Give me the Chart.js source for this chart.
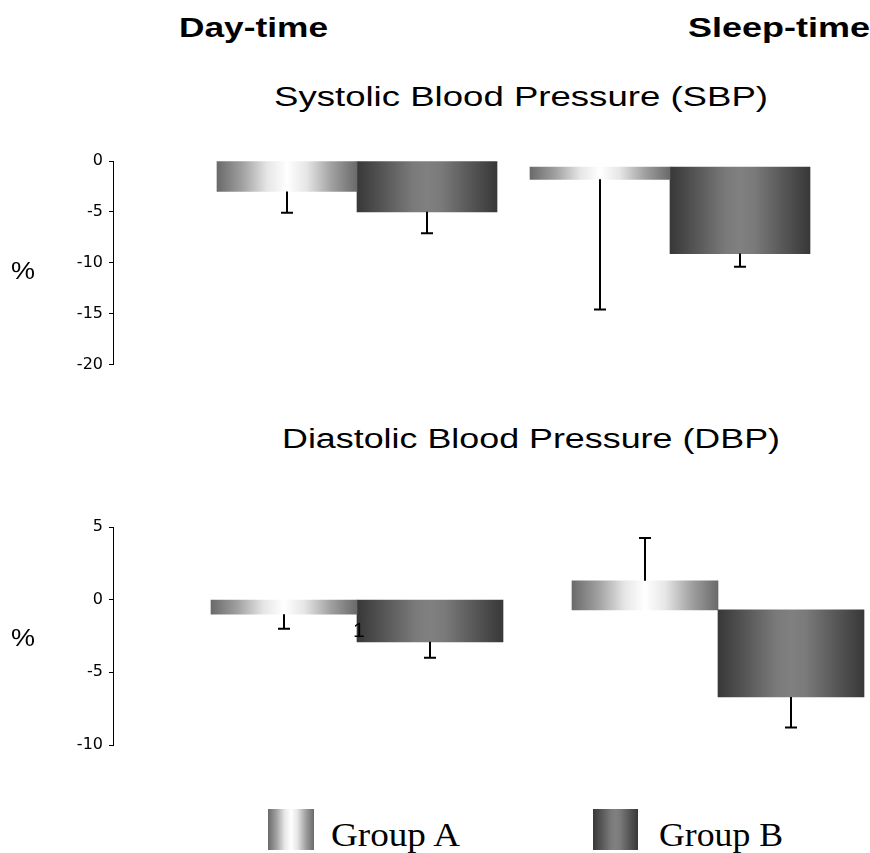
<!DOCTYPE html>
<html><head><meta charset="utf-8">
<script src="https://cdn.jsdelivr.net/npm/chart.js@4.4.1/dist/chart.umd.min.js"></script>
<style>
html,body{margin:0;padding:0;background:#fff;width:870px;height:853px;overflow:hidden;position:relative;}
.t{position:absolute;white-space:nowrap;transform-origin:0 0;color:#000;display:inline-block;}
.sw{position:absolute;}
</style></head><body>
<div style="position:absolute;left:0;top:140px;width:870px;height:240px"><canvas id="c1"></canvas></div>
<div style="position:absolute;left:0;top:500px;width:870px;height:270px"><canvas id="c2"></canvas></div>
<div class="sw" style="left:268px;top:809px;width:46px;height:41px;background:linear-gradient(to right,#6a6a6a 0%,#a0a0a0 18%,#e6e6e6 36%,#ffffff 50%,#e6e6e6 64%,#a0a0a0 82%,#6a6a6a 100%);"></div>
<div class="sw" style="left:593px;top:809px;width:45px;height:41px;background:linear-gradient(to right,#383838 0%,#555555 18%,#7a7a7a 40%,#808080 50%,#7a7a7a 60%,#555555 82%,#383838 100%);"></div>
<script>
// ---- data ----
const categories = ['Day-time', 'Sleep-time'];
const seriesNames = ['Group A', 'Group B'];
const sbpGroupA = [[0, -3.0], [-0.6, -1.8]];
const sbpGroupB = [[0, -5.0], [-0.6, -9.1]];
const sbpErrA = [2.1, 12.8];
const sbpErrB = [2.1, 1.3];
const dbpGroupA = [[0, -1.0], [-0.7, 1.3]];
const dbpGroupB = [[0, -2.9], [-0.7, -6.7]];
const dbpErrA = [1.0, 2.95];
const dbpErrB = [1.1, 2.1];
const sbpTicks = [0, -5, -10, -15, -20];
const dbpTicks = [5, 0, -5, -10];

// ---- styles ----
const stopsA = [[0,'#6a6a6a'],[0.18,'#a0a0a0'],[0.36,'#e6e6e6'],[0.5,'#ffffff'],[0.64,'#e6e6e6'],[0.82,'#a0a0a0'],[1,'#6a6a6a']];
const stopsB = [[0,'#383838'],[0.18,'#555555'],[0.4,'#7a7a7a'],[0.5,'#808080'],[0.6,'#7a7a7a'],[0.82,'#555555'],[1,'#383838']];

const gradPlugin = {
  id: 'grad',
  beforeDatasetsDraw(chart) {
    const ctx = chart.ctx;
    chart.data.datasets.forEach((ds, di) => {
      chart.getDatasetMeta(di).data.forEach(el => {
        const p = el.getProps(['x', 'width'], true);
        const g = ctx.createLinearGradient(p.x - p.width / 2, 0, p.x + p.width / 2, 0);
        ds.gradStops.forEach(s => g.addColorStop(s[0], s[1]));
        el.options = Object.assign({}, el.options, { backgroundColor: g });
      });
    });
  }
};
const errPlugin = {
  id: 'err',
  afterDatasetsDraw(chart) {
    const ctx = chart.ctx, ys = chart.scales.y;
    chart.data.datasets.forEach((ds, di) => {
      chart.getDatasetMeta(di).data.forEach((el, i) => {
        const v = ds.data[i].y;
        const dir = Math.sign(v[1] - v[0]) || -1;
        const e = ds.errors[i];
        const x = Math.round(el.x);
        const y0 = ys.getPixelForValue(v[1]);
        const y1 = ys.getPixelForValue(v[1] + dir * e);
        ctx.save();
        ctx.strokeStyle = '#000';
        ctx.lineWidth = 2;
        ctx.beginPath();
        ctx.moveTo(x, y0); ctx.lineTo(x, y1);
        ctx.moveTo(x - 6, y1); ctx.lineTo(x + 6, y1);
        ctx.stroke();
        ctx.restore();
      });
    });
  }
};

function makeChart(id, a, b, errA, errB, ticks, xMin, xMax, thick, pad) {
  const ds = (vals, errs, name, stops) => ({
    label: name,
    data: vals.map((v, i) => ({ x: i + 1, y: v })),
    errors: errs,
    gradStops: stops,
    backgroundColor: '#888',
    borderWidth: 0,
    barThickness: thick
  });
  return new Chart(document.getElementById(id), {
    type: 'bar',
    data: {
      datasets: [ds(a, errA, seriesNames[0], stopsA), ds(b, errB, seriesNames[1], stopsB)]
    },
    options: {
      responsive: true,
      maintainAspectRatio: false,
      animation: false,
      events: [],
      layout: { padding: pad },
      plugins: { legend: { display: false }, tooltip: { enabled: false } },
      scales: {
        x: {
          type: 'linear', display: false, min: xMin, max: xMax,
          offset: false, bounds: 'data', grace: 0,
          grid: { offset: false },
          ticks: { stepSize: 1, includeBounds: false }
        },
        y: {
          min: Math.min(...ticks), max: Math.max(...ticks),
          afterFit: s => { s.width = 113; },
          afterBuildTicks: s => { s.ticks = ticks.map(v => ({ value: v })); },
          grid: { drawOnChartArea: false, drawTicks: true, tickLength: 4, color: '#000', lineWidth: 1 },
          border: { display: true, color: '#000', width: 1 },
          ticks: { color: '#000', padding: 6, font: { family: 'DejaVu Sans', size: 16 } }
        }
      }
    },
    plugins: [gradPlugin, errPlugin]
  });
}

makeChart('c1', sbpGroupA, sbpGroupB, sbpErrA, sbpErrB, sbpTicks,
  1 - 244 / 313, 1 - 244 / 313 + 757 / 313, 140, { left: 0, right: 0, top: 21, bottom: 15 });
makeChart('c2', dbpGroupA, dbpGroupB, dbpErrA, dbpErrB, dbpTicks,
  1 - 244 / 361, 1 - 244 / 361 + 757 / 361, 146, { left: 0, right: 0, top: 27, bottom: 25 });

// ---- text ----
const SANS = '"Liberation Sans", Arial, sans-serif', SERIF = '"Liberation Serif", "Times New Roman", serif';
const texts = [
  { text: 'Day-time', x: 179, w: 149, base: 38, size: 28, weight: 'bold', fam: SANS, asc: 0.8465 },
  { text: 'Sleep-time', x: 688, w: 182, base: 38, size: 28, weight: 'bold', fam: SANS, asc: 0.8465 },
  { text: 'Systolic Blood Pressure (SBP)', x: 274, w: 494, base: 107, size: 27, weight: 'normal', fam: SANS, asc: 0.8465 },
  { text: 'Diastolic Blood Pressure (DBP)', x: 282, w: 498, base: 449, size: 27, weight: 'normal', fam: SANS, asc: 0.8465 },
  { text: '%', x: 11, w: 24, base: 279, size: 23, weight: 'normal', fam: SANS, asc: 0.8465 },
  { text: '%', x: 11, w: 24, base: 646, size: 23, weight: 'normal', fam: SANS, asc: 0.8465 },
  { text: '1', x: 353, w: null, base: 637, size: 21, weight: 'normal', fam: SANS, asc: 0.8465 },
  { text: seriesNames[0], x: 331, w: 129, base: 847, size: 33, weight: 'normal', fam: SERIF, asc: 0.8375 },
  { text: seriesNames[1], x: 659, w: 124, base: 847, size: 33, weight: 'normal', fam: SERIF, asc: 0.8375 }
];
texts.forEach(t => {
  const el = document.createElement('div');
  el.className = 't';
  el.textContent = t.text;
  el.style.font = t.weight + ' ' + t.size + 'px ' + t.fam;
  el.style.lineHeight = t.size + 'px';
  el.style.left = t.x + 'px';
  el.style.top = (t.base - t.asc * t.size) + 'px';
  document.body.appendChild(el);
  if (t.w) {
    const w = el.getBoundingClientRect().width;
    el.style.transform = 'scaleX(' + (t.w / w) + ')';
  }
});
</script>
</body></html>
